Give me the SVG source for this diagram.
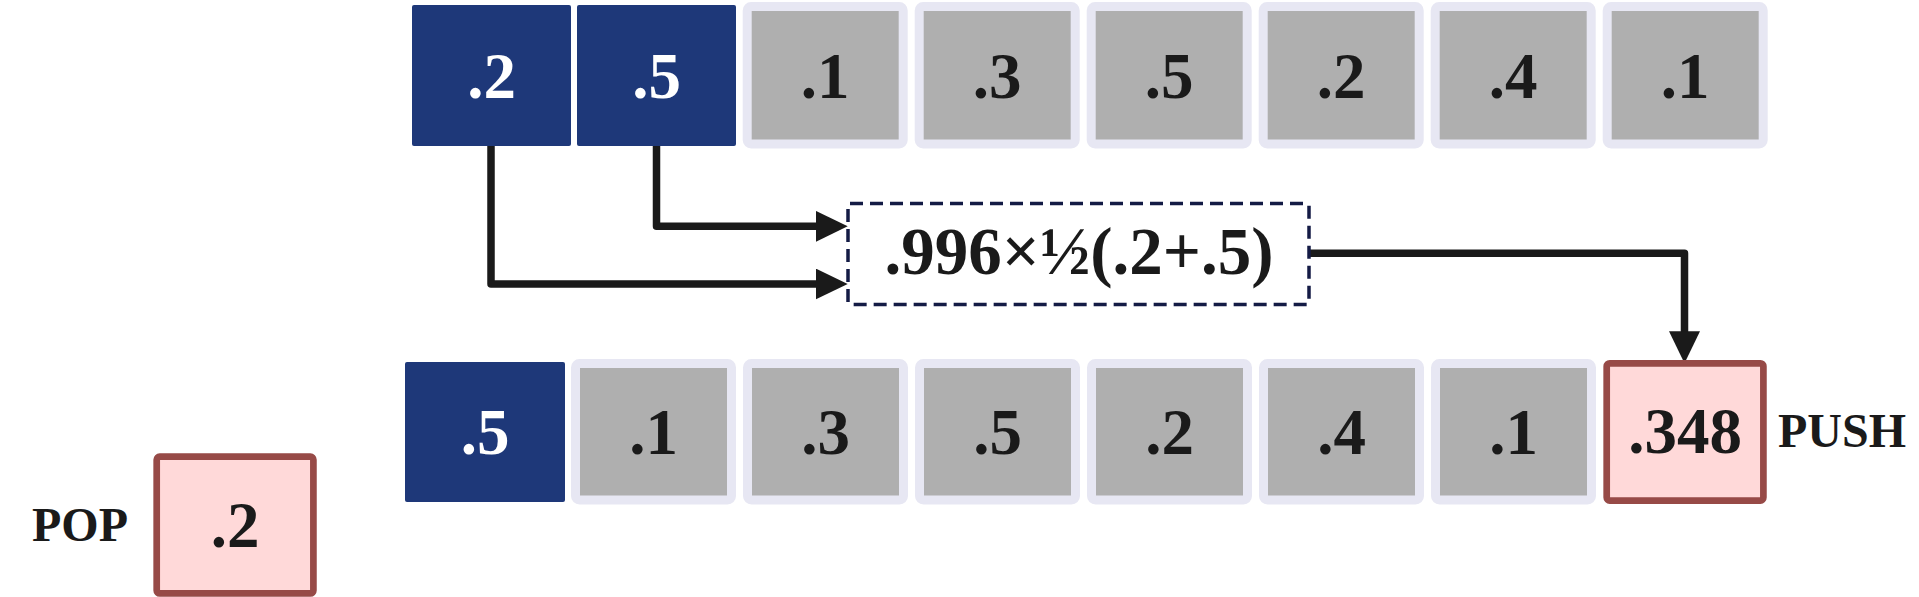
<svg xmlns="http://www.w3.org/2000/svg" width="1919" height="597" viewBox="0 0 1919 597">
<style>
.blue{fill:#1e3879;}
.gray{fill:#afafaf;stroke:#e7e7f3;stroke-width:9;}
.red{fill:#ffd9d9;stroke:#974a47;stroke-width:6.7;}
.t{font-family:"Liberation Serif","Times New Roman",serif;font-weight:bold;font-size:65px;text-anchor:middle;fill:#1a1a1a;}
.w{fill:#ffffff;}
.f{font-size:67px;}
.lbl{font-family:"Liberation Serif","Times New Roman",serif;font-weight:bold;font-size:48px;fill:#1a1a1a;}
.conn{fill:none;stroke:#1a1a1a;stroke-width:7.5;stroke-linejoin:round;}
.dash{fill:#ffffff;stroke:#141b45;stroke-width:3.5;stroke-dasharray:13 7;}
</style>
<defs>
<marker id="ah" markerUnits="userSpaceOnUse" markerWidth="32" markerHeight="31" refX="4" refY="15.5" orient="auto">
<path d="M0,0 L32,15.5 L0,31 z" fill="#1a1a1a"/>
</marker>
</defs>
<rect width="1919" height="597" fill="#ffffff"/>
<g id="connectors">
<path class="conn" d="M491,146 V284 H819.7" marker-end="url(#ah)"/>
<path class="conn" d="M656.5,146 V226.3 H819.7" marker-end="url(#ah)"/>
<path class="conn" d="M1310,253.3 H1684.5 V335.3" marker-end="url(#ah)"/>
</g>
<g id="top-row">
<g id="top-0"><rect class="blue" x="412" y="5" width="159" height="141" rx="2"/><text class="t w" x="491.5" y="98">.2</text></g>
<g id="top-1"><rect class="blue" x="577" y="5" width="159" height="141" rx="2"/><text class="t w" x="656.5" y="98">.5</text></g>
<g id="top-2"><rect class="gray" x="747.2" y="6.5" width="156" height="137.5" rx="4"/><text class="t" x="825.2" y="97.5">.1</text></g>
<g id="top-3"><rect class="gray" x="919.2" y="6.5" width="156" height="137.5" rx="4"/><text class="t" x="997.2" y="97.5">.3</text></g>
<g id="top-4"><rect class="gray" x="1091.2" y="6.5" width="156" height="137.5" rx="4"/><text class="t" x="1169.2" y="97.5">.5</text></g>
<g id="top-5"><rect class="gray" x="1263.2" y="6.5" width="156" height="137.5" rx="4"/><text class="t" x="1341.2" y="97.5">.2</text></g>
<g id="top-6"><rect class="gray" x="1435.2" y="6.5" width="156" height="137.5" rx="4"/><text class="t" x="1513.2" y="97.5">.4</text></g>
<g id="top-7"><rect class="gray" x="1607.2" y="6.5" width="156" height="137.5" rx="4"/><text class="t" x="1685.2" y="97.5">.1</text></g>
</g>
<g id="formula">
<rect class="dash" x="848" y="203.5" width="461" height="101" rx="2"/>
<text class="t f" x="1079" y="274">.996×½(.2+.5)</text>
</g>
<g id="bottom-row">
<g id="bot-0"><rect class="blue" x="405" y="362" width="160" height="140" rx="2"/><text class="t w" x="485" y="454">.5</text></g>
<g id="bot-1"><rect class="gray" x="575.5" y="363.5" width="156" height="136.5" rx="4"/><text class="t" x="653.5" y="454">.1</text></g>
<g id="bot-2"><rect class="gray" x="747.5" y="363.5" width="156" height="136.5" rx="4"/><text class="t" x="825.5" y="454">.3</text></g>
<g id="bot-3"><rect class="gray" x="919.5" y="363.5" width="156" height="136.5" rx="4"/><text class="t" x="997.5" y="454">.5</text></g>
<g id="bot-4"><rect class="gray" x="1091.5" y="363.5" width="156" height="136.5" rx="4"/><text class="t" x="1169.5" y="454">.2</text></g>
<g id="bot-5"><rect class="gray" x="1263.5" y="363.5" width="156" height="136.5" rx="4"/><text class="t" x="1341.5" y="454">.4</text></g>
<g id="bot-6"><rect class="gray" x="1435.5" y="363.5" width="156" height="136.5" rx="4"/><text class="t" x="1513.5" y="454">.1</text></g>
<g id="push-node"><rect class="red" x="1606.7" y="363.3" width="156.7" height="137.3" rx="3"/><text class="t" x="1685" y="453.3">.348</text></g>
</g>
<g id="push-label"><text class="lbl" x="1778" y="447.3">PUSH</text></g>
<g id="pop-node"><rect class="red" x="156.7" y="456.7" width="156.7" height="136.7" rx="3"/><text class="t" x="235" y="547.3">.2</text></g>
<g id="pop-label"><text class="lbl" x="32" y="540.7">POP</text></g>
</svg>
